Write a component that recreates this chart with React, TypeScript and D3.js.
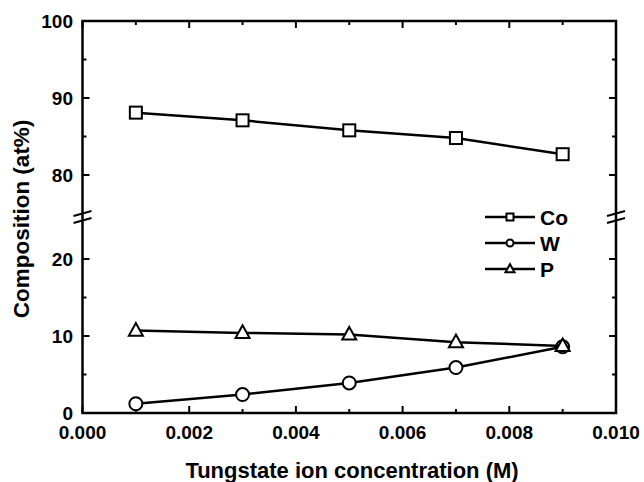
import React from "react";
import * as d3 from "d3";

const conc = [0.001, 0.003, 0.005, 0.007, 0.009];
const coValues = [88.1, 87.1, 85.8, 84.8, 82.7];
const wValues = [1.2, 2.4, 3.9, 5.9, 8.6];
const pValues = [10.7, 10.4, 10.2, 9.2, 8.7];

const xTicks = [0, 0.002, 0.004, 0.006, 0.008, 0.01];
const xMinor = [0.001, 0.003, 0.005, 0.007, 0.009];
const yTicksLow = [0, 10, 20];
const yMinorLow = [5, 15];
const yTicksUp = [80, 90, 100];
const yMinorUp = [85, 95];

const W = 644;
const H = 482;
const left = 82.5;
const right = 616;
const top = 21;
const bottom = 413;
const gap = 7;
const half = (bottom - top - gap) / 2;

const x = d3.scaleLinear().domain([0, 0.01]).range([left, right]);
const yLow = d3.scaleLinear().domain([0, 25]).range([bottom, bottom - half]);
const yUp = d3.scaleLinear().domain([75, 100]).range([top + half, top]);
const y = (v: number) => (v >= 50 ? yUp(v) : yLow(v));
const breakY = top + half + gap / 2;

const font = "'Liberation Sans', Arial, sans-serif";

type Shape = "square" | "circle" | "triangle";

const Marker = ({ cx, cy, shape, s }: { cx: number; cy: number; shape: Shape; s: number }) => {
  if (shape === "square")
    return <rect x={cx - s / 2} y={cy - s / 2} width={s} height={s} fill="white" stroke="black" strokeWidth={2} />;
  if (shape === "circle")
    return <circle cx={cx} cy={cy} r={s / 2} fill="white" stroke="black" strokeWidth={2} />;
  const h = s * 0.9;
  const p = `M${cx},${cy - h * 0.6} L${cx + s / 2},${cy + h * 0.4} L${cx - s / 2},${cy + h * 0.4} Z`;
  return <path d={p} fill="white" stroke="black" strokeWidth={2} strokeLinejoin="miter" />;
};

const series: { name: string; values: number[]; shape: Shape }[] = [
  { name: "Co", values: coValues, shape: "square" },
  { name: "W", values: wValues, shape: "circle" },
  { name: "P", values: pValues, shape: "triangle" },
];

const line = d3
  .line<[number, number]>()
  .x(d => x(d[0]))
  .y(d => y(d[1]));

const BreakMark = ({ ax }: { ax: number }) => (
  <g stroke="black" strokeWidth={2}>
    <line x1={ax - 9} y1={breakY - 1} x2={ax + 9} y2={breakY - 6} />
    <line x1={ax - 9} y1={breakY + 6} x2={ax + 9} y2={breakY + 1} />
  </g>
);

const markerSize = (shape: Shape) => (shape === "triangle" ? 14 : shape === "circle" ? 13 : 12);

export default function App() {
  return (
    <svg width={W} height={H} style={{ position: "absolute", left: 0, top: 0, background: "white" }}>
      <rect width={W} height={H} fill="white" />
      {/* frame */}
      <rect x={left} y={top} width={right - left} height={bottom - top} fill="none" stroke="black" strokeWidth={2.5} />

      {/* x ticks (bottom and top, inward) */}
      {xTicks.map(t => (
        <g key={"xt" + t}>
          <line x1={x(t)} x2={x(t)} y1={bottom} y2={bottom - 7} stroke="black" strokeWidth={2} />
          <line x1={x(t)} x2={x(t)} y1={top} y2={top + 7} stroke="black" strokeWidth={2} />
          <text x={x(t)} y={438.5} textAnchor="middle" fontFamily={font} fontWeight="bold" fontSize={19}>
            {t.toFixed(3)}
          </text>
        </g>
      ))}
      {xMinor.map(t => (
        <g key={"xm" + t}>
          <line x1={x(t)} x2={x(t)} y1={bottom} y2={bottom - 4} stroke="black" strokeWidth={2} />
          <line x1={x(t)} x2={x(t)} y1={top} y2={top + 4} stroke="black" strokeWidth={2} />
        </g>
      ))}

      {/* y ticks */}
      {[...yTicksLow, ...yTicksUp].map(t => (
        <g key={"yt" + t}>
          <line x1={left} x2={left + 7} y1={y(t)} y2={y(t)} stroke="black" strokeWidth={2} />
          <line x1={right} x2={right - 7} y1={y(t)} y2={y(t)} stroke="black" strokeWidth={2} />
          <text x={73} y={y(t) + 6.5} textAnchor="end" fontFamily={font} fontWeight="bold" fontSize={19}>
            {t}
          </text>
        </g>
      ))}
      {[...yMinorLow, ...yMinorUp].map(t => (
        <g key={"ym" + t}>
          <line x1={left} x2={left + 4} y1={y(t)} y2={y(t)} stroke="black" strokeWidth={2} />
          <line x1={right} x2={right - 4} y1={y(t)} y2={y(t)} stroke="black" strokeWidth={2} />
        </g>
      ))}

      <BreakMark ax={left} />
      <BreakMark ax={right} />

      {/* series */}
      {series.map(s => (
        <g key={s.name}>
          <path
            d={line(conc.map((c, i) => [c, s.values[i]] as [number, number])) || ""}
            fill="none"
            stroke="black"
            strokeWidth={2.5}
          />
          {conc.map((c, i) => (
            <Marker key={i} cx={x(c)} cy={y(s.values[i])} shape={s.shape} s={markerSize(s.shape)} />
          ))}
        </g>
      ))}

      {/* legend */}
      {series.map((s, i) => {
        const ly = 217 + i * 26;
        return (
          <g key={"lg" + s.name}>
            <line x1={485} x2={535} y1={ly} y2={ly} stroke="black" strokeWidth={2.5} />
            <Marker cx={510} cy={ly} shape={s.shape} s={s.shape === "triangle" ? 9 : 7} />
            <text x={540} y={ly + 7.5} fontFamily={font} fontWeight="bold" fontSize={21}>
              {s.name}
            </text>
          </g>
        );
      })}

      {/* axis titles */}
      <text x={352} y={478} textAnchor="middle" fontFamily={font} fontWeight="bold" fontSize={22}>
        Tungstate ion concentration (M)
      </text>
      <text
        transform={`translate(29, ${(top + bottom) / 2 + 2}) rotate(-90)`}
        textAnchor="middle"
        fontFamily={font}
        fontWeight="bold"
        fontSize={22.5}
      >
        Composition (at%)
      </text>
    </svg>
  );
}
